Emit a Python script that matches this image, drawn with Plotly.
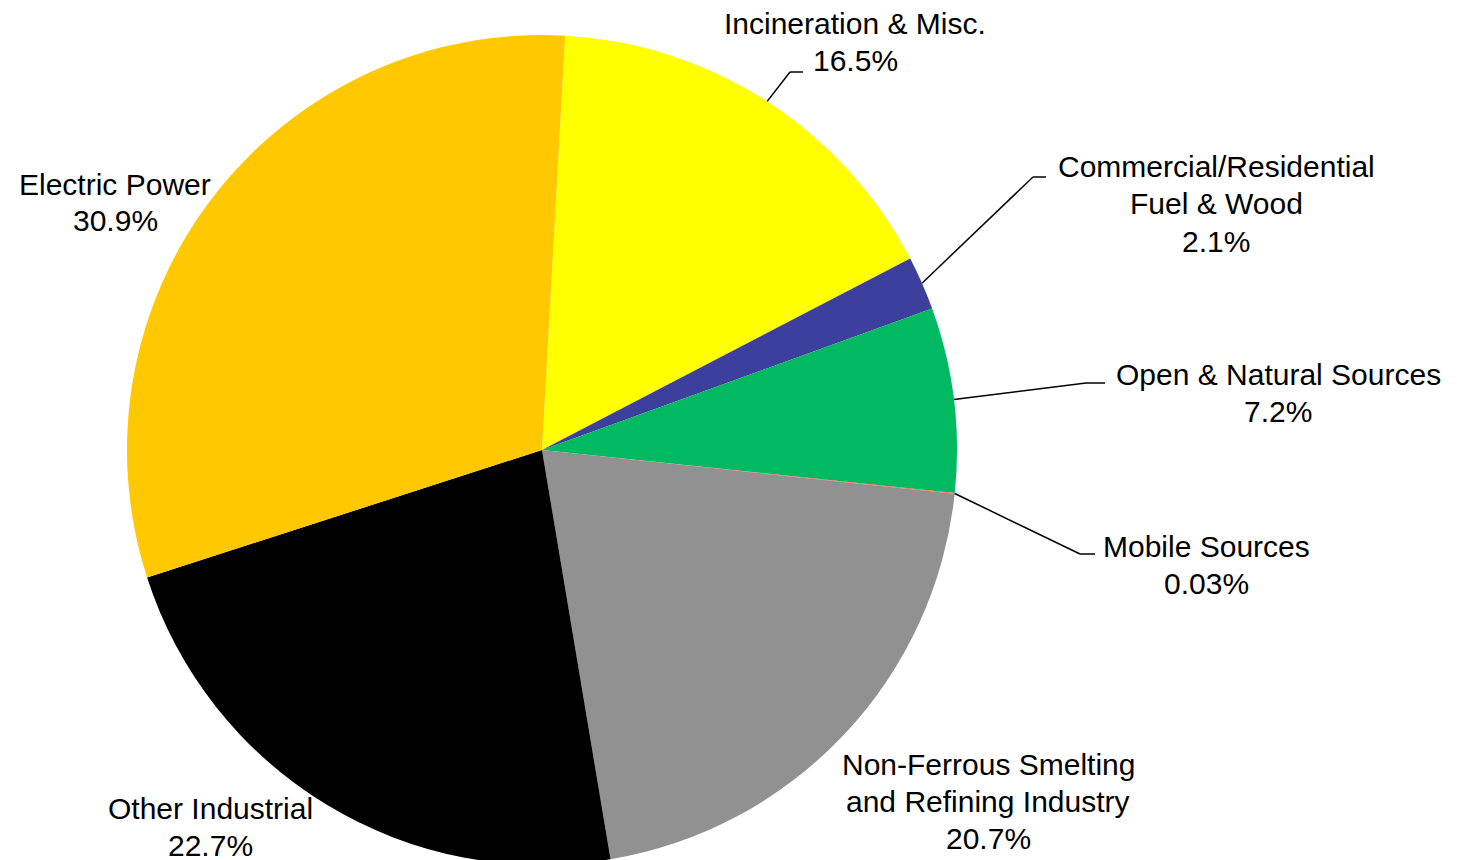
import math
import plotly.graph_objects as go

# ---- data ----
categories = [
    "Incineration & Misc.",
    "Commercial/Residential Fuel & Wood",
    "Open & Natural Sources",
    "Mobile Sources",
    "Non-Ferrous Smelting and Refining Industry",
    "Other Industrial",
    "Electric Power",
]
values = [16.5, 2.1, 7.2, 0.03, 20.7, 22.7, 30.9]
percent_labels = ["16.5%", "2.1%", "7.2%", "0.03%", "20.7%", "22.7%", "30.9%"]
name_lines = [
    ["Incineration & Misc."],
    ["Commercial/Residential", "Fuel & Wood"],
    ["Open & Natural Sources"],
    ["Mobile Sources"],
    ["Non-Ferrous Smelting", "and Refining Industry"],
    ["Other Industrial"],
    ["Electric Power"],
]

# ---- style / layout (screen pixels; the page body adds an 8px offset) ----
colors = ["#FFFF00", "#3D3F9C", "#00B961", "#FF5B2B", "#919191", "#000000", "#FFC800"]
W, H = 1467, 860
OFF = 8
CX, CY, R = 542, 450, 415
ROTATION = 3.2
FONT = "Liberation Sans, Arial, sans-serif"
FS = 30
LINE_H = 37

# x centre and first-line y centre of each label
label_pos = [(855, 24), (1216, 167), (1278, 374), (1206, 546), (988, 764), (210, 808), (115, 184)]
elbows = [((790, 72), (803, 72)),
          ((1033, 177), (1046, 177)),
          ((1086, 383), (1105, 383)),
          ((1080, 554), (1095, 554)),
          None, None, None]


def px(x):
    return (x - OFF) / W


def py(y):
    return 1 - (y - OFF) / H


fig = go.Figure(go.Pie(
    labels=categories,
    values=values,
    sort=False,
    direction="clockwise",
    rotation=ROTATION,
    marker=dict(colors=colors, line=dict(width=0)),
    textinfo="none",
    hoverinfo="label+percent",
    showlegend=False,
    domain=dict(x=[px(CX - R), px(CX + R)], y=[py(CY + R), py(CY - R)]),
))

annotations = []
shapes = []
total = sum(values)
cum = 0.0
for i, v in enumerate(values):
    mid = ROTATION + 360.0 * (cum + v / 2) / total
    cum += v
    lx, ly = label_pos[i]
    lines = name_lines[i] + [percent_labels[i]]
    for k, t in enumerate(lines):
        annotations.append(dict(
            x=px(lx), y=py(ly + k * LINE_H), xref="paper", yref="paper",
            text=t, showarrow=False,
            xanchor="center", yanchor="middle", align="center",
            font=dict(family=FONT, size=FS, color="#000000"),
        ))
    if elbows[i] is not None:
        a = math.radians(mid)
        sx = CX + R * math.sin(a)
        sy = CY - R * math.cos(a)
        (ex, ey), (hx, hy) = elbows[i]
        shapes.append(dict(type="line", xref="paper", yref="paper",
                           x0=px(sx), y0=py(sy), x1=px(ex), y1=py(ey),
                           line=dict(color="#000000", width=1.5)))
        shapes.append(dict(type="line", xref="paper", yref="paper",
                           x0=px(ex), y0=py(ey), x1=px(hx), y1=py(hy),
                           line=dict(color="#000000", width=1.5)))

fig.update_layout(
    width=W, height=H,
    margin=dict(l=0, r=0, t=0, b=0),
    paper_bgcolor="white",
    plot_bgcolor="white",
    annotations=annotations,
    shapes=shapes,
    font=dict(family=FONT),
)

fig.write_html("out.html")
